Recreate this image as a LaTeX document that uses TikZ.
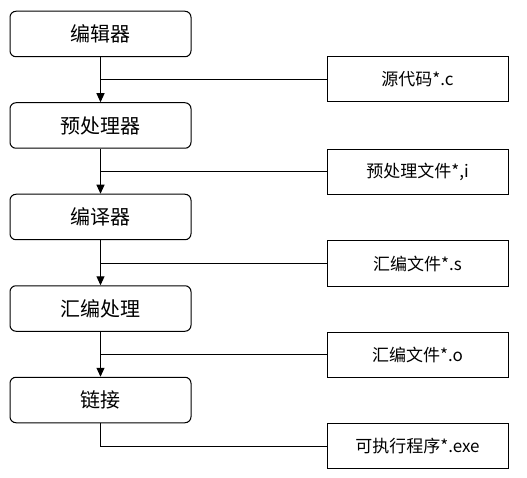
\documentclass[tikz,border=0pt]{standalone}
\usepackage{fontspec}
\setmainfont{Noto Sans CJK SC}
\usetikzlibrary{arrows.meta}
\begin{document}
\begin{tikzpicture}[x=1pt,y=-1pt,
  stage/.style={draw,line width=1pt,rounded corners=6pt,minimum width=181pt,minimum height=45.5pt,font=\fontsize{20}{24}\selectfont,inner sep=0pt},
  filebox/.style={draw,line width=1pt,minimum width=181pt,minimum height=45pt,font=\fontsize{17}{20}\selectfont,inner sep=0pt},
  flow/.style={line width=1pt,-{Triangle[width=8pt,length=9pt]}},
  link/.style={line width=1pt}]
\useasboundingbox (0,0) rectangle (527,478);
\node[stage] (s1) at (100.5,34) {编辑器};
\node[stage] (s2) at (100.5,125.5) {预处理器};
\node[stage] (s3) at (100.5,217) {编译器};
\node[stage] (s4) at (100.5,308.5) {汇编处理};
\node[stage] (s5) at (100.5,400) {链接};
\node[filebox] (f1) at (417.5,79.5) {源代码*.c};
\node[filebox] (f2) at (417.5,172) {预处理文件*,i};
\node[filebox] (f3) at (417.5,263.5) {汇编文件*.s};
\node[filebox] (f4) at (417.5,354.5) {汇编文件*.o};
\node[filebox] (f5) at (417.5,446) {可执行程序*.exe};
\draw[flow] (s1) -- (s2);
\draw[flow] (s2) -- (s3);
\draw[flow] (s3) -- (s4);
\draw[flow] (s4) -- (s5);
\draw[link] (f1.west) -- (f1.west -| s1.south);
\draw[link] (f2.west) -- (f2.west -| s2.south);
\draw[link] (f3.west) -- (f3.west -| s3.south);
\draw[link] (f4.west) -- (f4.west -| s4.south);
\draw[link] (s5.south) |- (f5.west);
\end{tikzpicture}
\end{document}
